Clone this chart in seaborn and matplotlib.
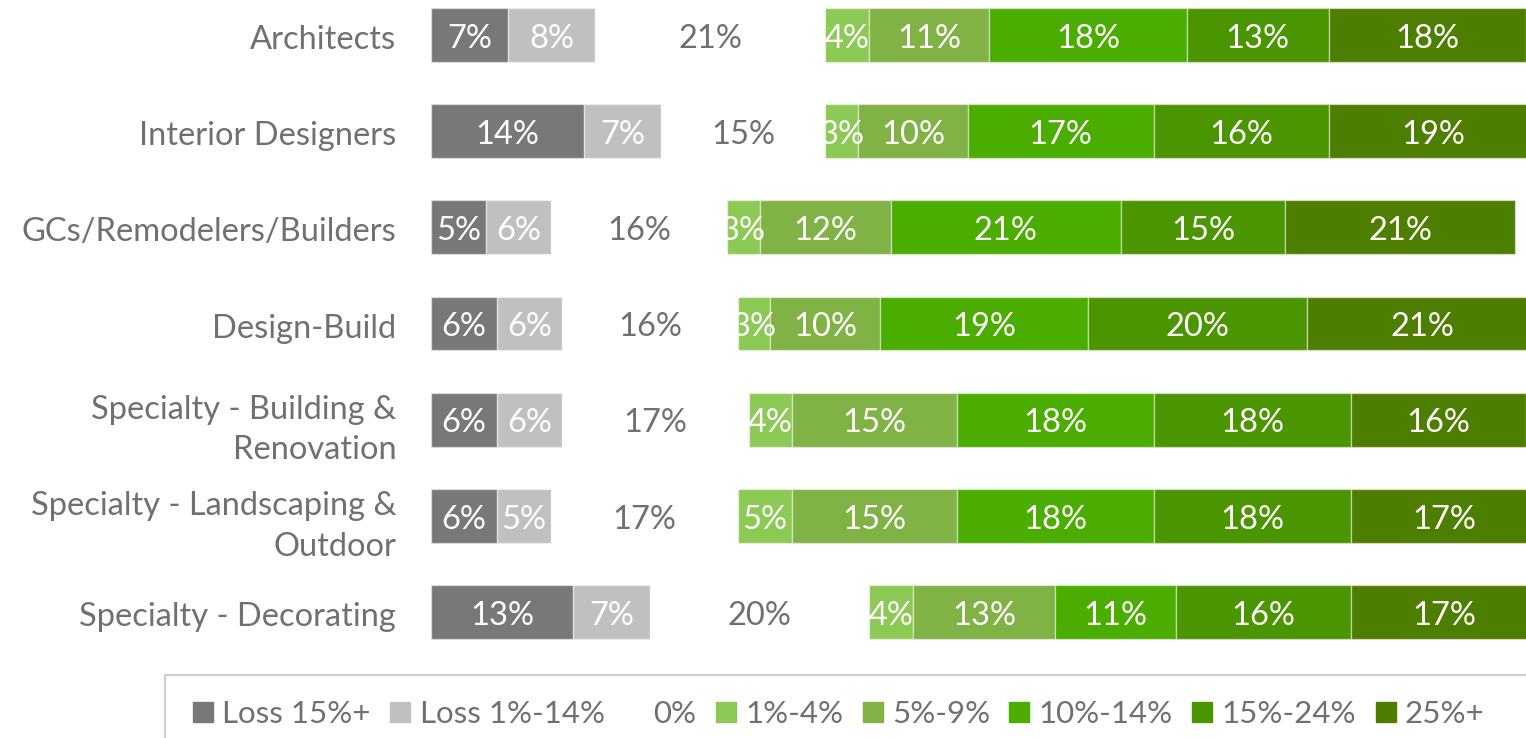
import matplotlib
matplotlib.use("Agg")
import matplotlib.pyplot as plt
import matplotlib.transforms as mtransforms
from matplotlib.patches import Patch, Rectangle
import numpy as np
import pandas as pd
import seaborn as sns

categories = [
    "Architects",
    "Interior Designers",
    "GCs/Remodelers/Builders",
    "Design-Build",
    "Specialty - Building &\nRenovation",
    "Specialty - Landscaping &\nOutdoor",
    "Specialty - Decorating",
]
series_names = ["Loss 15%+", "Loss 1%-14%", "0%", "1%-4%", "5%-9%", "10%-14%", "15%-24%", "25%+"]
loss_15_plus = [7, 14, 5, 6, 6, 6, 13]
loss_1_14 = [8, 7, 6, 6, 6, 5, 7]
zero_pct = [21, 15, 16, 16, 17, 17, 20]
gain_1_4 = [4, 3, 3, 3, 4, 5, 4]
gain_5_9 = [11, 10, 12, 10, 15, 15, 13]
gain_10_14 = [18, 17, 21, 19, 18, 18, 11]
gain_15_24 = [13, 16, 15, 20, 18, 18, 16]
gain_25_plus = [18, 19, 21, 21, 16, 17, 17]

series_values = [loss_15_plus, loss_1_14, zero_pct, gain_1_4, gain_5_9,
                 gain_10_14, gain_15_24, gain_25_plus]
colors = ["#787878", "#c0c0c0", "#ffffff", "#8cc955", "#80b245",
          "#4bad00", "#4a9500", "#4d7e00"]
label_colors = ["white", "white", "#707070", "white", "white", "white", "white", "white"]
text_gray = "#707070"
fs = 23.5

sns.set_theme(style="white")
plt.rcParams["font.family"] = ["Lato", "DejaVu Sans"]

fig = plt.figure(figsize=(15.26, 7.38), dpi=100)
ax = fig.add_axes([431 / 1526, 78 / 738, 1 - 431 / 1526, 660 / 738])

vals = np.array(series_values, dtype=float)  # shape (series, categories)
starts = np.cumsum(vals, axis=0) - vals

# one seaborn call per segment, each offset by the running total
for k, name in enumerate(series_names):
    df = pd.DataFrame({"category": categories, "share": vals[k]})
    sns.barplot(data=df, x="share", y="category", orient="h", ax=ax,
                color=colors[k], saturation=1, width=0.56, left=starts[k],
                edgecolor=(1, 1, 1, 0.45), linewidth=1.0)
    for i in range(len(categories)):
        ax.text(starts[k, i] + vals[k, i] / 2, i + 0.04, f"{int(vals[k, i])}%",
                ha="center", va="center", fontsize=fs,
                color=label_colors[k], zorder=5)

ax.set_xlim(0, 100)
ax.set_ylim(6.5, -0.365)
ax.set_xlabel("")
ax.set_ylabel("")
ax.set_xticks([])
ax.tick_params(axis="y", length=0, pad=25, labelsize=fs, labelcolor=text_gray)
shift = mtransforms.ScaledTranslation(0, -2 / 100, fig.dpi_scale_trans)
for lbl in ax.get_yticklabels():
    lbl.set_linespacing(1.45)
    lbl.set_transform(lbl.get_transform() + shift)
for s in ax.spines.values():
    s.set_visible(False)

handles = [Patch(facecolor=c, edgecolor=c) for c in colors]
fig.legend(handles, series_names, loc="center left",
           bbox_to_anchor=(193 / 1526, 24 / 738), bbox_transform=fig.transFigure,
           ncol=8, frameon=False, fontsize=22.5, labelcolor=text_gray,
           handlelength=0.64, handleheight=0.64, handletextpad=0.3,
           columnspacing=0.62, borderpad=0, borderaxespad=0)

fig.add_artist(Rectangle((165 / 1526, -0.1), 1.0, 0.1 + 63 / 738,
                         transform=fig.transFigure, facecolor="none",
                         edgecolor="#d0d0d0", linewidth=1.6))

fig.savefig("out.png", dpi=100)
